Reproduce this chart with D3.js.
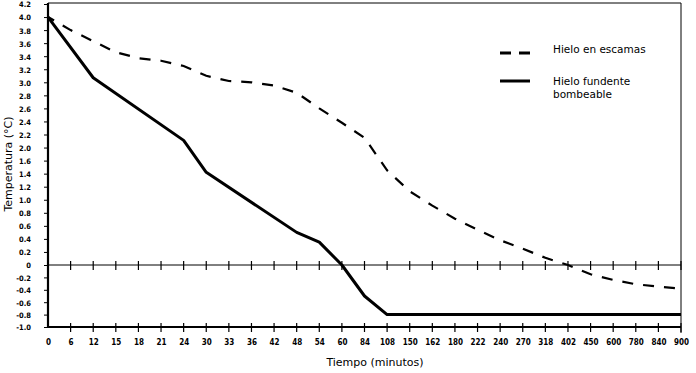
<!DOCTYPE html>
<html>
<head>
<meta charset="utf-8">
<script src="https://cdn.jsdelivr.net/npm/d3@7"></script>
<style>
  body { margin: 0; background: #fff; }
  svg { display: block; }
</style>
</head>
<body>
<svg width="696" height="373"></svg>
<script>
// tick labels (x axis is categorical, y axis skips 1.8 like the original)
var timeLabels = ["0","6","12","15","18","21","24","30","33","36","42","48","54","60","84","108",
                  "150","162","180","222","240","270","318","402","450","600","780","840","900"];
var tempTicks = [4.2,4.0,3.8,3.6,3.4,3.2,3.0,2.8,2.6,2.4,2.2,2.0,1.6,1.4,1.2,1.0,0.8,0.6,0.4,0.2,0,
                 -0.2,-0.4,-0.6,-0.8,-1.0];
var tempLabels = ["4.2","4.0","3.8","3.6","3.4","3.2","3.0","2.8","2.6","2.4","2.2","2.0","1.6","1.4",
                  "1.2","1.0","0.8","0.6","0.4","0.2","0","-0.2","-0.4","-0.6","-0.8","-1.0"];

// Hielo en escamas (value at every time label)
var escamas = [4.0, 3.8, 3.63, 3.46, 3.37, 3.33, 3.25, 3.1, 3.02, 3.0, 2.95, 2.84, 2.6, 2.38, 2.15,
               1.45, 1.13, 0.91, 0.71, 0.54, 0.38, 0.25, 0.11, 0.0, -0.15, -0.24, -0.31, -0.35, -0.38];

// Hielo fundente bombeable (break points only)
var fundenteTimes = ["0","12","24","30","48","54","60","84","108","900"];
var fundente = [4.0, 3.07, 2.11, 1.42, 0.5, 0.35, 0, -0.5, -0.8, -0.8];

var svg = d3.select("svg");
var plotL = 48, plotR = 681, plotT = 4, zeroY = 265, plotB = 327;
var step = (zeroY - plotT) / 20;

var x = d3.scalePoint().domain(timeLabels).range([plotL, plotR]);
var y = d3.scaleLinear()
    .domain([-1.0, 0, 1.6, 2.0, 4.2])
    .range([plotB, zeroY, plotT + 12 * step, plotT + 11 * step, plotT]);

var labelFont = "'DejaVu Sans Condensed', 'DejaVu Sans', sans-serif";

// frame
svg.append("line").attr("x1", plotL).attr("x2", plotR).attr("y1", plotT - 1).attr("y2", plotT - 1)
    .attr("stroke", "#000").attr("stroke-width", 1);
svg.append("line").attr("x1", plotR).attr("x2", plotR).attr("y1", plotT - 1).attr("y2", plotB + 6)
    .attr("stroke", "#000").attr("stroke-width", 1);

// left axis: ticks from d3.axisLeft, labels placed with the same scale
var yAxis = d3.axisLeft(y).tickValues(tempTicks).tickFormat("").tickSize(4);
var gy = svg.append("g").attr("transform", "translate(" + plotL + ",0)").call(yAxis);
gy.select(".domain").remove();
gy.selectAll(".tick line").attr("stroke-width", 1);
svg.append("g").selectAll("text").data(tempTicks).enter().append("text")
    .attr("x", 31)
    .attr("y", function (d) { return y(d) + 1; })
    .attr("dy", "0.32em")
    .attr("text-anchor", "end")
    .attr("font-family", labelFont)
    .attr("font-weight", "bold")
    .attr("font-size", "7.5px")
    .text(function (d, i) { return tempLabels[i]; });
svg.append("line").attr("x1", plotL).attr("x2", plotL).attr("y1", plotT - 1).attr("y2", plotB + 1)
    .attr("stroke", "#000").attr("stroke-width", 2.2);

// zero line with ticks
var gz = svg.append("g").attr("transform", "translate(0," + zeroY + ")");
gz.append("line").attr("x1", plotL).attr("x2", plotR).attr("stroke", "#000").attr("stroke-width", 1);
gz.selectAll("line.zt").data(timeLabels.slice(1)).enter().append("line")
    .attr("class", "zt")
    .attr("x1", function (d) { return x(d); })
    .attr("x2", function (d) { return x(d); })
    .attr("y1", -4).attr("y2", 5)
    .attr("stroke", "#000").attr("stroke-width", 1.2);

// bottom axis
var xAxis = d3.axisBottom(x).tickSize(0).tickPadding(12);
var gx = svg.append("g").attr("transform", "translate(0," + plotB + ")").call(xAxis);
gx.select(".domain").remove();
gx.selectAll("text")
    .attr("font-family", labelFont)
    .attr("font-weight", "bold")
    .attr("font-size", "8px");
gx.append("line").attr("x1", plotL).attr("x2", plotR).attr("stroke", "#000").attr("stroke-width", 2.2);
gx.selectAll("line.bt").data(timeLabels.slice(1)).enter().append("line")
    .attr("class", "bt")
    .attr("x1", function (d) { return x(d); })
    .attr("x2", function (d) { return x(d); })
    .attr("y1", -4).attr("y2", 5)
    .attr("stroke", "#000").attr("stroke-width", 1.2);

// axis titles
svg.append("text")
    .attr("transform", "translate(12," + 164 + ") rotate(-90)")
    .attr("text-anchor", "middle")
    .attr("font-family", "'DejaVu Sans', sans-serif")
    .attr("font-size", "11px")
    .text("Temperatura (°C)");
svg.append("text")
    .attr("x", 375).attr("y", 366)
    .attr("text-anchor", "middle")
    .attr("font-family", "'DejaVu Sans', sans-serif")
    .attr("font-size", "11px")
    .text("Tiempo (minutos)");

// lines
var line = d3.line().x(function (d) { return x(d[0]); }).y(function (d) { return y(d[1]); });

svg.append("path")
    .datum(timeLabels.map(function (t, i) { return [t, escamas[i]]; }))
    .attr("d", line)
    .attr("fill", "none")
    .attr("stroke", "#000")
    .attr("stroke-width", 2.2)
    .attr("stroke-dasharray", "11,10")
    .attr("stroke-dashoffset", 4);

svg.append("path")
    .datum(fundenteTimes.map(function (t, i) { return [t, fundente[i]]; }))
    .attr("d", line)
    .attr("fill", "none")
    .attr("stroke", "#000")
    .attr("stroke-width", 3)
    .attr("stroke-linejoin", "round");

// legend
var lg = svg.append("g").attr("font-family", "'DejaVu Sans', sans-serif").attr("font-size", "10.5px");
lg.append("line").attr("x1", 500).attr("x2", 530).attr("y1", 53).attr("y2", 53)
    .attr("stroke", "#000").attr("stroke-width", 3).attr("stroke-dasharray", "11,8");
lg.append("text").attr("x", 553).attr("y", 53).text("Hielo en escamas");
lg.append("line").attr("x1", 500).attr("x2", 530).attr("y1", 81).attr("y2", 81)
    .attr("stroke", "#000").attr("stroke-width", 3);
lg.append("text").attr("x", 553).attr("y", 85).text("Hielo fundente");
lg.append("text").attr("x", 553).attr("y", 98).text("bombeable");
</script>
</body>
</html>
